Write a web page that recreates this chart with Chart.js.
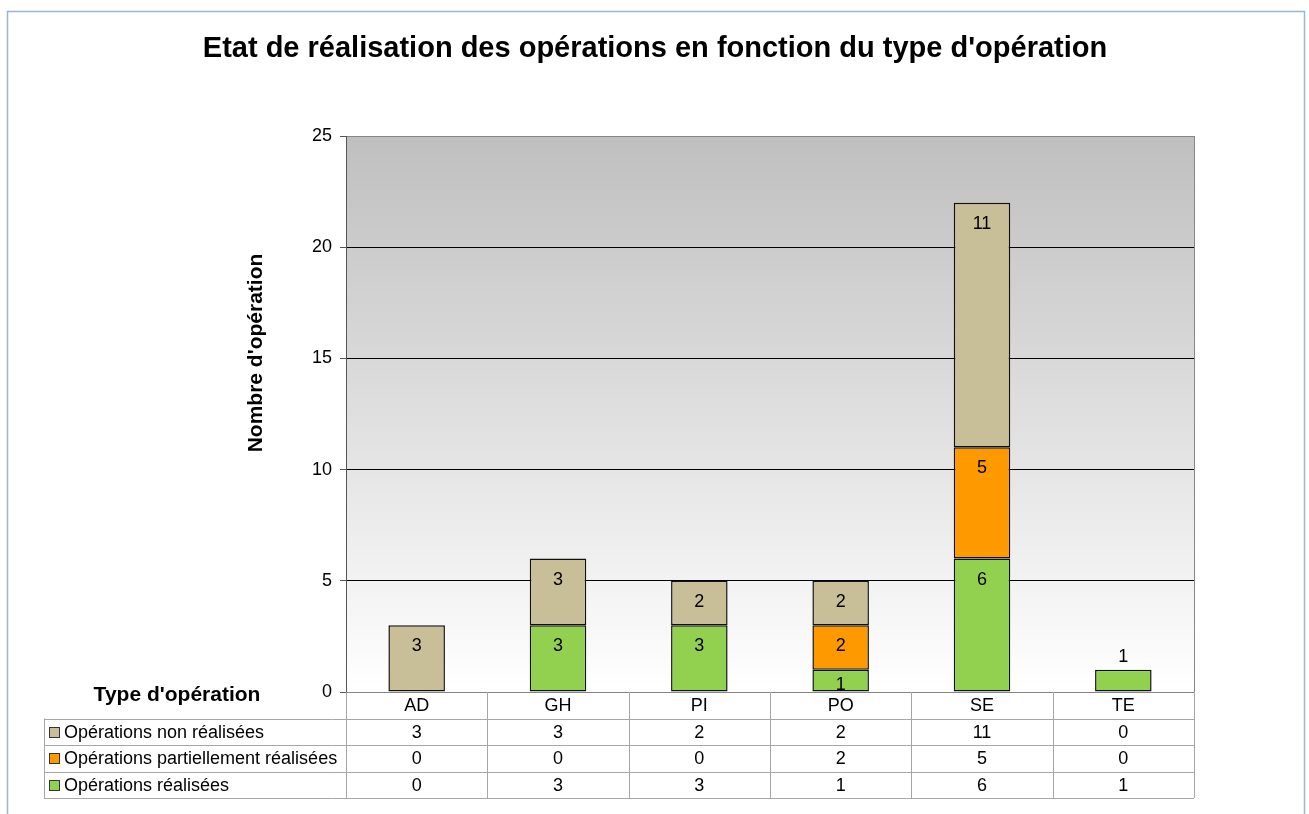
<!DOCTYPE html>
<html lang="fr">
<head>
<meta charset="utf-8">
<title>Etat de réalisation des opérations</title>
<script src="https://cdn.jsdelivr.net/npm/chart.js@4.4.1/dist/chart.umd.min.js"></script>
<style>
  html, body { margin: 0; padding: 0; background: #fff; }
  canvas { display: block; }
</style>
</head>
<body>
<canvas id="chart" width="1309" height="814"></canvas>
<script>
const categories = ['AD', 'GH', 'PI', 'PO', 'SE', 'TE'];
const nonRealisees = [3, 3, 2, 2, 11, 0];
const partielRealisees = [0, 0, 0, 2, 5, 0];
const realisees = [0, 3, 3, 1, 6, 1];
const seriesLabels = ['Opérations réalisées', 'Opérations partiellement réalisées', 'Opérations non réalisées'];
const seriesColors = ['#92d050', '#ff9900', '#c8bf98'];
const yMax = 25;
const yStep = 5;

const FONT = 'Liberation Sans, Arial, sans-serif';
const seriesValues = [realisees, partielRealisees, nonRealisees];

// fond dégradé de la zone de traçage + cadre extérieur + titre
const backgroundPlugin = {
  id: 'background',
  beforeDraw(chart) {
    const { ctx, chartArea: a } = chart;
    ctx.save();
    ctx.strokeStyle = '#9bb5d3';
    ctx.lineWidth = 1.5;
    ctx.strokeRect(7.5, 11.5, 1297, 820);
    const g = ctx.createLinearGradient(0, a.top, 0, a.bottom);
    g.addColorStop(0, '#bfbfbf');
    g.addColorStop(1, '#ffffff');
    ctx.fillStyle = g;
    ctx.fillRect(a.left, a.top, a.right - a.left, a.bottom - a.top);

    ctx.font = 'bold 29px ' + FONT;
    ctx.fillStyle = '#000';
    ctx.textAlign = 'center';
    ctx.textBaseline = 'middle';
    ctx.fillText("Etat de réalisation des opérations en fonction du type d'opération", 655, 49);
    ctx.restore();
  }
};

// valeurs dans les barres, cadre de la zone, titre de l'axe Y et tableau de données
const overlayPlugin = {
  id: 'overlay',
  afterDatasetsDraw(chart) {
    const { ctx } = chart;
    ctx.save();
    ctx.font = '18px ' + FONT;
    ctx.fillStyle = '#000';
    ctx.textAlign = 'center';
    ctx.textBaseline = 'middle';
    chart.data.datasets.forEach((ds, di) => {
      const meta = chart.getDatasetMeta(di);
      meta.data.forEach((bar, i) => {
        const v = seriesValues[di][i];
        if (!v) return;
        const h = bar.base - bar.y;
        const isTop = seriesValues.slice(di + 1).every(s => !s[i]);
        let y;
        if (h >= 40) y = bar.y + 21;
        else if (isTop) y = bar.y - 13;
        else y = bar.y + 15;
        ctx.fillText(String(v), bar.x, y);
      });
    });
    ctx.restore();
  },
  afterDraw(chart) {
    const { ctx, chartArea: a } = chart;
    const xs = chart.scales.x;
    ctx.save();

    // cadre de la zone de traçage
    ctx.strokeStyle = '#868686';
    ctx.lineWidth = 1;
    ctx.strokeRect(Math.round(a.left) + 0.5, Math.round(a.top) + 0.5,
      Math.round(a.right - a.left), Math.round(a.bottom - a.top));
    ctx.strokeStyle = '#555';
    ctx.beginPath();
    ctx.moveTo(Math.round(a.left) + 0.5, a.top);
    ctx.lineTo(Math.round(a.left) + 0.5, a.bottom);
    ctx.stroke();

    // titre de l'axe Y
    ctx.save();
    ctx.translate(256, 353);
    ctx.rotate(-Math.PI / 2);
    ctx.font = 'bold 21px ' + FONT;
    ctx.fillStyle = '#000';
    ctx.textAlign = 'center';
    ctx.textBaseline = 'middle';
    ctx.fillText("Nombre d'opération", 0, 0);
    ctx.restore();

    // tableau de données
    const top = Math.round(a.bottom);
    const rowH = 26.5;
    const left = 44;
    const colW = (a.right - a.left) / categories.length;
    const bounds = categories.map((_, i) => Math.round(a.left + i * colW));
    bounds.push(Math.round(a.right));
    const rows = seriesLabels.map((name, k) => ({
      name, color: seriesColors[k], values: seriesValues[k]
    })).reverse();
    const bottom = top + rowH * (rows.length + 1);

    ctx.strokeStyle = '#a6a6a6';
    ctx.lineWidth = 1;
    ctx.beginPath();
    for (let r = 1; r <= rows.length + 1; r++) {
      const y = Math.round(top + r * rowH) + 0.5;
      ctx.moveTo(left, y);
      ctx.lineTo(bounds[bounds.length - 1], y);
    }
    bounds.forEach(x => {
      ctx.moveTo(x + 0.5, top);
      ctx.lineTo(x + 0.5, bottom);
    });
    ctx.moveTo(left + 0.5, top + rowH);
    ctx.lineTo(left + 0.5, bottom);
    ctx.stroke();

    ctx.font = '18px ' + FONT;
    ctx.fillStyle = '#000';
    ctx.textBaseline = 'middle';
    ctx.textAlign = 'center';
    categories.forEach((c, i) => {
      ctx.fillText(c, xs.getPixelForValue(i), top + rowH / 2 + 1);
    });
    rows.forEach((row, r) => {
      const cy = top + (r + 1.5) * rowH + 1;
      ctx.fillStyle = row.color;
      ctx.fillRect(49, Math.round(cy - 6), 10, 10);
      ctx.strokeStyle = '#333';
      ctx.strokeRect(49.5, Math.round(cy - 6) + 0.5, 10, 10);
      ctx.fillStyle = '#000';
      ctx.textAlign = 'left';
      ctx.fillText(row.name, 64, cy);
      ctx.textAlign = 'center';
      row.values.forEach((v, i) => {
        ctx.fillText(String(v), xs.getPixelForValue(i), cy);
      });
    });

    ctx.font = 'bold 21px ' + FONT;
    ctx.textAlign = 'center';
    ctx.fillText("Type d'opération", 177, 695);
    ctx.restore();
  }
};

new Chart(document.getElementById('chart'), {
  type: 'bar',
  data: {
    labels: categories,
    datasets: seriesLabels.map((label, k) => ({
      label,
      data: seriesValues[k].map(v => (v === 0 ? null : v)),
      backgroundColor: seriesColors[k],
      borderColor: '#111',
      borderWidth: 1.5,
      borderSkipped: false,
      barPercentage: 0.4,
      categoryPercentage: 1
    }))
  },
  options: {
    responsive: false,
    animation: false,
    layout: { padding: { left: 0, right: 115, top: 136, bottom: 0 } },
    plugins: {
      legend: { display: false },
      tooltip: { enabled: false },
      title: { display: false }
    },
    scales: {
      x: {
        stacked: true,
        grid: { display: false },
        ticks: { display: false },
        border: { display: false },
        afterFit(scale) { scale.height = 122; }
      },
      y: {
        stacked: true,
        min: 0,
        max: yMax,
        ticks: {
          stepSize: yStep,
          color: '#000',
          padding: 8,
          font: { family: FONT, size: 18 }
        },
        grid: {
          color: c => (c.tick.value === 0 || c.tick.value === yMax ? 'rgba(0,0,0,0)' : '#000'),
          tickColor: '#555',
          tickLength: 6,
          lineWidth: 1
        },
        border: { display: false },
        afterFit(scale) { scale.width = 346; }
      }
    }
  },
  plugins: [backgroundPlugin, overlayPlugin]
});
</script>
</body>
</html>
